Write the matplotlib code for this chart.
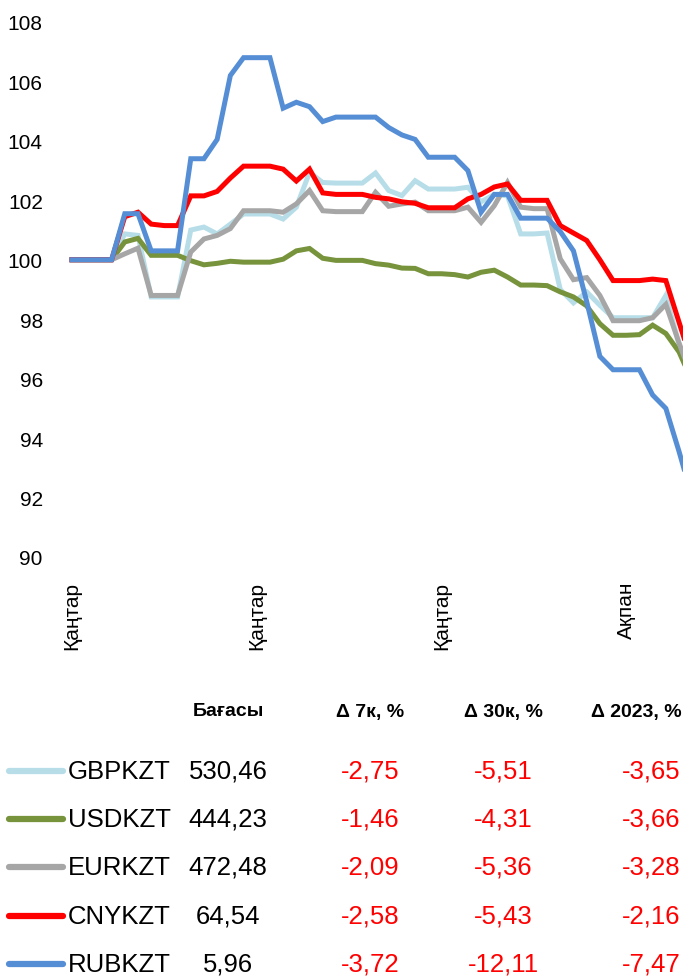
import matplotlib
matplotlib.use('Agg')
import matplotlib.pyplot as plt
from matplotlib.lines import Line2D
from matplotlib import font_manager
import numpy as np

# condensed Arial-like face if available
names = {f.name for f in font_manager.fontManager.ttflist}
main_font = 'Liberation Sans Narrow' if 'Liberation Sans Narrow' in names else 'Liberation Sans'
plt.rcParams['font.family'] = [main_font, 'Liberation Sans', 'DejaVu Sans']
narrow = main_font == 'Liberation Sans Narrow'

# x tick labels (every 14th observation)
tick_pos = [0, 14, 28, 42]
tick_labels = ['Қаңтар', 'Қаңтар', 'Қаңтар', 'Ақпан']

# index values, start = 100
gbp = [100, 100, 100, 100, 100.87, 100.82, 98.75, 98.75, 98.75, 101.0, 101.1, 100.87, 101.2, 101.54, 101.54, 101.54,
       101.37, 101.77, 102.94, 102.6, 102.58, 102.58, 102.58, 102.92, 102.33, 102.16, 102.66, 102.38, 102.38, 102.38,
       102.44, 101.95, 102.2, 102.15, 100.87, 100.87, 100.9, 99.0, 98.55, 98.92, 98.47, 98.05, 98.05, 98.05, 98.05,
       98.8, 97.15, 95.9]
usd = [100, 100, 100, 100, 100.6, 100.72, 100.15, 100.15, 100.15, 99.97, 99.83, 99.88, 99.95, 99.92, 99.92, 99.92,
       100.02, 100.3, 100.38, 100.05, 99.98, 99.98, 99.98, 99.87, 99.82, 99.72, 99.71, 99.53, 99.53, 99.5,
       99.42, 99.58, 99.65, 99.42, 99.15, 99.15, 99.13, 98.92, 98.75, 98.45, 97.85, 97.46, 97.46, 97.48, 97.8,
       97.52, 96.9, 95.9]
eur = [100, 100, 100, 100, 100.2, 100.39, 98.8, 98.8, 98.8, 100.26, 100.7, 100.82, 101.05, 101.65, 101.65, 101.65,
       101.6, 101.88, 102.33, 101.65, 101.62, 101.62, 101.62, 102.27, 101.8, 101.88, 101.94, 101.65, 101.65, 101.65,
       101.77, 101.26, 101.82, 102.6, 101.77, 101.72, 101.72, 100.03, 99.33, 99.4, 98.8, 97.95, 97.95, 97.95, 98.05,
       98.5, 97.2, 96.0]
cny = [100, 100, 100, 100, 101.45, 101.6, 101.2, 101.15, 101.15, 102.15, 102.15, 102.3, 102.75, 103.15, 103.15, 103.15,
       103.05, 102.65, 103.05, 102.25, 102.2, 102.2, 102.2, 102.1, 102.05, 101.95, 101.9, 101.75, 101.75, 101.75,
       102.05, 102.2, 102.45, 102.55, 102.0, 102.0, 102.0, 101.15, 100.9, 100.65, 100.0, 99.3, 99.3, 99.3, 99.35,
       99.3, 97.9, 96.5]
rub = [100, 100, 100, 100, 101.55, 101.55, 100.3, 100.3, 100.3, 103.4, 103.4, 104.05, 106.2, 106.8, 106.8, 106.8,
       105.1, 105.3, 105.15, 104.65, 104.8, 104.8, 104.8, 104.8, 104.45, 104.2, 104.05, 103.45, 103.45, 103.45,
       103.0, 101.6, 102.2, 102.2, 101.4, 101.4, 101.4, 100.95, 100.3, 98.6, 96.75, 96.3, 96.3, 96.3, 95.45,
       95.0, 93.55, 92.0]

# table
pairs = ['GBPKZT', 'USDKZT', 'EURKZT', 'CNYKZT', 'RUBKZT']
price = [530.46, 444.23, 472.48, 64.54, 5.96]
d7 = [-2.75, -1.46, -2.09, -2.58, -3.72]
d30 = [-5.51, -4.31, -5.36, -5.43, -12.11]
dytd = [-3.65, -3.66, -3.28, -2.16, -7.47]
headers = ['Бағасы', 'Δ 7к, %', 'Δ 30к, %', 'Δ 2023, %']

series = [gbp, usd, eur, cny, rub]
colors = ['#B7DEE8', '#77933C', '#A6A6A6', '#FF0000', '#558ED5']

if narrow:
    tick_fs, xt_fs, head_fs, row_fs = 17, 17.5, 16, 21
else:
    tick_fs, xt_fs, head_fs, row_fs = 15, 15, 14, 18.5

W, H = 683, 978
fig = plt.figure(figsize=(W / 100, H / 100), dpi=100)

# axes placed in pixel terms: x=-1 at 58.8px, y=108 at 23px, y=90 at 558px
ax = fig.add_axes([58.8 / W, 1 - 558 / H, 1 - 58.8 / W, (558 - 23) / H])
x = np.arange(len(gbp))
for s, c in zip(series, colors):
    ax.plot(x, s, color=c, lw=3.6, solid_joinstyle='miter')

ax.set_xlim(-1, 46.3)
ax.set_ylim(90, 108)
ax.set_yticks(np.arange(90, 109, 2))
ax.set_xticks(tick_pos)
ax.set_xticklabels(tick_labels, rotation=90, va='top', ha='center')
ax.tick_params(axis='y', length=0, pad=11.5, labelsize=tick_fs)
ax.tick_params(axis='x', length=0, pad=17, labelsize=xt_fs)
for sp in ax.spines.values():
    sp.set_visible(False)


def fy(px):
    return 1 - px / H


def fmt(v):
    return f'{v:.2f}'.replace('.', ',')


# header row
hx = [228, 370, 503, 636]
for xp, h in zip(hx, headers):
    fig.text(xp / W, fy(712), h, ha='center', va='center', fontsize=head_fs, fontweight='bold')

row_y = [772, 820, 868, 917, 965]
for i, yp in enumerate(row_y):
    fig.add_artist(Line2D([9 / W, 63 / W], [fy(yp), fy(yp)], color=colors[i], lw=4.5,
                          solid_capstyle='round'))
    fig.text(68 / W, fy(yp), pairs[i], ha='left', va='center', fontsize=row_fs)
    fig.text(228 / W, fy(yp), fmt(price[i]), ha='center', va='center', fontsize=row_fs)
    fig.text(370 / W, fy(yp), fmt(d7[i]), ha='center', va='center', fontsize=row_fs, color='#FF0000')
    fig.text(503 / W, fy(yp), fmt(d30[i]), ha='center', va='center', fontsize=row_fs, color='#FF0000')
    fig.text(651 / W, fy(yp), fmt(dytd[i]), ha='center', va='center', fontsize=row_fs, color='#FF0000')

fig.savefig('out.png', dpi=100)
